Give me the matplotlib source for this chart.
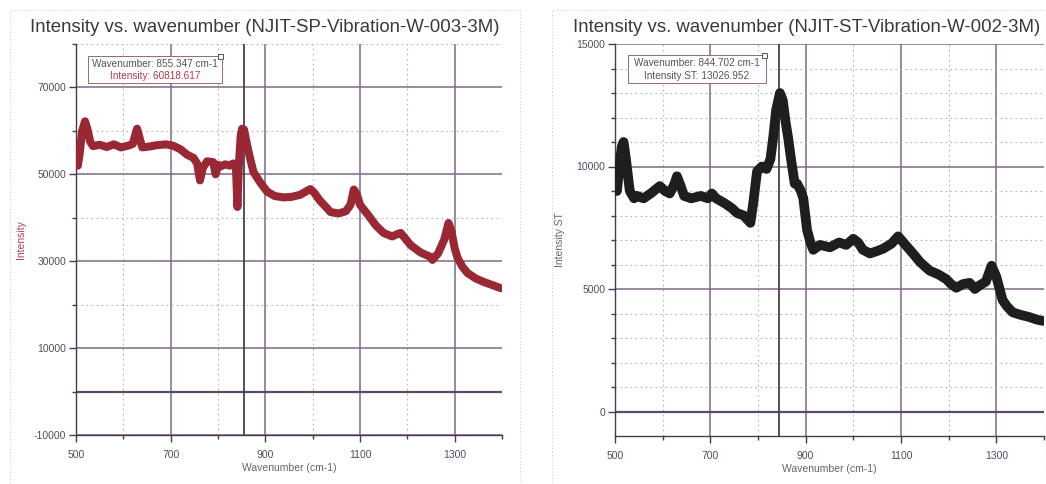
import matplotlib
matplotlib.use("Agg")
import matplotlib.pyplot as plt
from matplotlib.ticker import FixedLocator
from matplotlib.patches import Rectangle

plt.rcParams['font.family'] = ['Liberation Sans', 'DejaVu Sans']
plt.rcParams['axes.unicode_minus'] = False

# ---- Left panel data (SP) ----
sp_wavenumber = [504, 508, 513, 519, 524, 530, 536, 550, 565, 580, 595, 610, 620, 625, 629, 634, 640,
                 655, 670, 690, 705, 720, 735, 748, 756, 762, 768, 777, 790, 795, 800, 805, 815, 825, 832,
                 838, 841, 844, 848, 851, 855, 860, 866, 875, 890, 904, 920, 938, 955, 974, 988, 995,
                 1003, 1015, 1038, 1055, 1070, 1080, 1087, 1093, 1100, 1116, 1133, 1150, 1168, 1180,
                 1186, 1195, 1207, 1228, 1249, 1253, 1265, 1278, 1287, 1293, 1300, 1306, 1316, 1327,
                 1345, 1362, 1380, 1397]
sp_intensity = [52000, 55000, 60000, 62200, 60500, 57500, 56500, 56800, 56300, 56900, 56200, 56600, 57000,
                59000, 60500, 58500, 56200, 56400, 56700, 56900, 56600, 55800, 54500, 53800, 52500,
                48600, 51500, 53000, 52800, 50000, 52200, 51800, 52300, 52000, 52500, 51500, 42500,
                52000, 59000, 60500, 60300, 57500, 54500, 50500, 48000, 46000, 45000, 44700, 44800,
                45300, 46200, 46600, 45800, 44000, 41300, 41000, 41500, 43000, 46500, 45500, 43000,
                40800, 38300, 36500, 35700, 36300, 36500, 35300, 33700, 32000, 31000, 30300, 31800,
                35000, 38800, 37000, 33000, 30800, 28800, 27300, 26000, 25200, 24500, 23800]

# ---- Right panel data (ST) ----
st_wavenumber = [504, 509, 514, 518, 523, 531, 540, 546, 560, 575, 594, 605, 615, 625, 630, 636, 645,
                 660, 680, 695, 703, 712, 730, 745, 756, 770, 784, 790, 798, 808, 818, 826, 832, 838, 846,
                 852, 858, 863, 870, 877, 882, 890, 895, 903, 910, 916, 930, 951, 970, 985, 1000, 1010,
                 1020, 1035, 1050, 1063, 1080, 1094, 1105, 1125, 1140, 1160, 1178, 1195, 1205, 1216,
                 1230, 1244, 1255, 1265, 1278, 1290, 1300, 1313, 1322, 1334, 1350, 1370, 1385, 1397]
st_intensity = [9000, 9900, 10800, 11000, 10300, 9000, 8700, 8800, 8700, 8900, 9200, 9000, 8900, 9300,
                9600, 9300, 8800, 8700, 8800, 8700, 8900, 8700, 8500, 8300, 8100, 8000, 7700, 8500,
                9800, 10000, 9900, 10300, 11200, 12300, 13000, 12700, 11800, 11200, 10200, 9300, 9300,
                9000, 8700, 7400, 6900, 6600, 6800, 6700, 6900, 6800, 7050, 6900, 6600, 6450, 6550,
                6650, 6850, 7150, 6900, 6450, 6100, 5750, 5600, 5400, 5200, 5050, 5200, 5250, 5000,
                5150, 5300, 5950, 5500, 4550, 4300, 4050, 3950, 3850, 3750, 3700]

x_major = [500, 700, 900, 1100, 1300]
x_minor = [600, 800, 1000, 1200, 1400]

W, H = 1046, 484
fig = plt.figure(figsize=(W / 100, H / 100), dpi=100)
fig.patch.set_facecolor('white')

grid_major = '#7d6a85'
grid_minor = '#b8aebd'
tick_col = '#5a4a60'


def ax_rect(l, r, t, b):
    return [l / W, 1 - b / H, (r - l) / W, (b - t) / H]


def style_axes(ax, ymaj, ymin, ylim):
    ax.set_xlim(500, 1400)
    ax.set_ylim(*ylim)
    ax.xaxis.set_major_locator(FixedLocator(x_major))
    ax.xaxis.set_minor_locator(FixedLocator(x_minor))
    ax.yaxis.set_major_locator(FixedLocator(ymaj))
    ax.yaxis.set_minor_locator(FixedLocator(ymin))
    for s in ['top', 'right']:
        ax.spines[s].set_visible(False)
    for s in ['left', 'bottom']:
        ax.spines[s].set_color('#4a3a50')
        ax.spines[s].set_linewidth(1.0)
    ax.tick_params(which='major', length=5, width=1.0, color='#4a3a50', labelsize=7.5,
                   labelcolor=tick_col, pad=2)
    ax.tick_params(axis='x', which='major', pad=6)
    ax.tick_params(which='minor', length=3, width=1.0, color='#4a3a50')
    ax.grid(which='major', color=grid_major, linewidth=1.1, linestyle='-')
    ax.grid(which='minor', color=grid_minor, linewidth=0.8, linestyle=(0, (1.5, 3)))
    ax.axhline(0, color='#5c4c62', linewidth=1.6, zorder=1)
    ax.set_axisbelow(True)
    ax.set_xlabel('Wavenumber (cm-1)', fontsize=7.5, color='#6a6070', labelpad=2)


def cursor_box(ax, x0, x1, y0, y1, line1, line2, col2):
    fig.add_artist(Rectangle((x0 / W, 1 - y1 / H), (x1 - x0) / W, (y1 - y0) / H,
                             transform=fig.transFigure, facecolor='white',
                             edgecolor='#9a6a70', linewidth=0.7, zorder=5))
    xc = (x0 + x1) / 2 / W
    fig.text(xc, 1 - (y0 + 8) / H, line1, ha='center', va='center', fontsize=7.2,
             color='#555555', zorder=6)
    fig.text(xc, 1 - (y1 - 7) / H, line2, ha='center', va='center', fontsize=7.2,
             color=col2, zorder=6)
    fig.add_artist(Rectangle(((x1 - 4) / W, 1 - (y0 + 3) / H), 5 / W, 5 / H,
                             transform=fig.transFigure, facecolor='white',
                             edgecolor='#555555', linewidth=0.7, zorder=7))


# Dotted panel frames
for x0, x1 in [(10, 520), (552, 1046)]:
    fig.add_artist(Rectangle((x0 / W, -0.01), (x1 - x0) / W, 1 - 10 / H + 0.01,
                             transform=fig.transFigure, fill=False,
                             edgecolor='#cfcfcf', linestyle=(0, (1, 2)), linewidth=0.8))

# ---- Left axes ----
ax1 = fig.add_axes(ax_rect(76, 502, 44, 435))
style_axes(ax1, [-10000, 10000, 30000, 50000, 70000],
           [0, 20000, 40000, 60000, 80000], (-10000, 80000))
ax1.axvline(855.347, color='#4a4050', linewidth=1.3, zorder=2)
ax1.plot(sp_wavenumber, sp_intensity, color='#9a2834', linewidth=5.8,
         solid_capstyle='round', solid_joinstyle='round', zorder=3)
ax1.set_ylabel('Intensity', fontsize=7.5, color='#b04050', labelpad=6)
fig.text(265 / W, 1 - 27 / H, 'Intensity vs. wavenumber (NJIT-SP-Vibration-W-003-3M)',
         fontsize=13.4, color='#3a3a3a', ha='center', va='center')
cursor_box(ax1, 88, 222, 56, 83, 'Wavenumber: 855.347 cm-1', 'Intensity: 60818.617', '#b03a48')

# ---- Right axes ----
ax2 = fig.add_axes(ax_rect(615, 1044, 44, 436))
style_axes(ax2, [0, 5000, 10000, 15000],
           [1000, 2000, 3000, 4000, 6000, 7000, 8000, 9000, 11000, 12000, 13000, 14000], (-1000, 15000))
ax2.axvline(844.702, color='#4a4050', linewidth=1.3, zorder=2)
ax2.plot(st_wavenumber, st_intensity, color='#1e1e1e', linewidth=7.0,
         solid_capstyle='round', solid_joinstyle='round', zorder=3)
ax2.set_ylabel('Intensity ST', fontsize=7.5, color='#6a6070', labelpad=8)
fig.text(807 / W, 1 - 27 / H, 'Intensity vs. wavenumber (NJIT-ST-Vibration-W-002-3M)',
         fontsize=13.4, color='#3a3a3a', ha='center', va='center')
cursor_box(ax2, 628, 766, 55, 83, 'Wavenumber: 844.702 cm-1', 'Intensity ST: 13026.952', '#555555')

fig.savefig('out.png', dpi=100, facecolor='white')
